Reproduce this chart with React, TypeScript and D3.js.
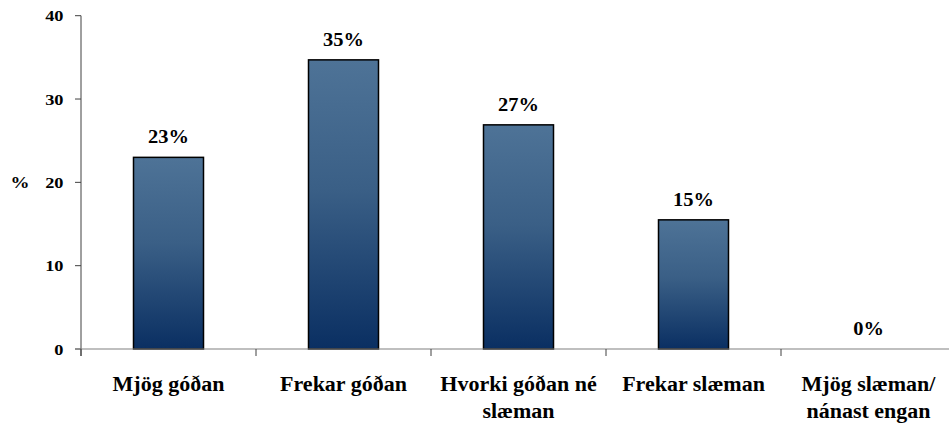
import React from "react";
import * as d3 from "d3";

const categories: string[][] = [
  ["Mjög góðan"],
  ["Frekar góðan"],
  ["Hvorki góðan né", "slæman"],
  ["Frekar slæman"],
  ["Mjög slæman/", "nánast engan"],
];
const values: number[] = [23, 34.7, 26.9, 15.5, 0];
const valueLabels: string[] = ["23%", "35%", "27%", "15%", "0%"];
const yTicks: number[] = [0, 10, 20, 30, 40];
const yTitle = "%";

const W = 949;
const H = 425;
const FONT = '"Liberation Serif", "Times New Roman", Times, serif';

export default function App() {
  const x0 = 81;
  const band = 175;
  const x = d3
    .scaleBand<number>()
    .domain(categories.map((_, i) => i))
    .range([x0, x0 + band * categories.length])
    .paddingInner(0.6)
    .paddingOuter(0.3);
  const y = d3.scaleLinear().domain([0, 40]).range([349, 15.7]);

  const tickX = (i: number) => x0 + band * i;
  const txt = { fontFamily: FONT, fontWeight: 700 as const };

  return (
    <div style={{ position: "fixed", left: 0, top: 0 }}>
      <svg width={W} height={H} style={{ display: "block", background: "#fff" }}>
        <defs>
          <linearGradient id="barGrad" x1="0" y1="0" x2="0" y2="1">
            <stop offset="0%" stopColor="#4e7397" />
            <stop offset="45%" stopColor="#3a5f86" />
            <stop offset="100%" stopColor="#0a2f62" />
          </linearGradient>
        </defs>

        {/* y axis */}
        <line x1={x0} x2={x0} y1={y(40)} y2={356} stroke="#404040" strokeWidth={1} />
        {yTicks.map((t) => (
          <g key={t}>
            <line x1={75} x2={x0} y1={y(t)} y2={y(t)} stroke="#404040" strokeWidth={1} />
            <text
              transform={`translate(63.5,${y(t) + 5.5}) scale(1.18,1)`}
              textAnchor="end"
              style={{ ...txt, fontSize: 15.5 }}
              fill="#000"
            >
              {t}
            </text>
          </g>
        ))}
        <text
          transform={`translate(20,${y(20) + 5.5}) scale(1.15,1)`}
          textAnchor="middle"
          style={{ ...txt, fontSize: 16.5 }}
          fill="#000"
        >
          {yTitle}
        </text>

        {/* bars */}
        {values.map((v, i) => (
          <g key={i}>
            {v > 0 && (
              <rect
                x={x(i)!}
                y={y(v)}
                width={x.bandwidth()}
                height={y(0) - y(v)}
                fill="url(#barGrad)"
                stroke="#000"
                strokeWidth={1.5}
              />
            )}
            <text
              transform={`translate(${x(i)! + x.bandwidth() / 2},${y(v) - 14}) scale(1.05,1)`}
              textAnchor="middle"
              style={{ ...txt, fontSize: 19.5 }}
              fill="#000"
            >
              {valueLabels[i]}
            </text>
          </g>
        ))}

        {/* x axis */}
        <line x1={75} x2={W} y1={y(0)} y2={y(0)} stroke="#808080" strokeWidth={1.2} />
        {categories.map((_, i) => (
          <line key={i} x1={tickX(i)} x2={tickX(i)} y1={y(0)} y2={356} stroke="#404040" strokeWidth={1} />
        ))}

        {/* category labels */}
        {categories.map((lines, i) => (
          <g key={i}>
            {lines.map((ln, j) => (
              <text
                key={j}
                transform={`translate(${tickX(i) + band / 2},${390.5 + j * 27}) scale(1.1,1)`}
                textAnchor="middle"
                style={{ ...txt, fontSize: 20 }}
                fill="#000"
              >
                {ln}
              </text>
            ))}
          </g>
        ))}
      </svg>
    </div>
  );
}
